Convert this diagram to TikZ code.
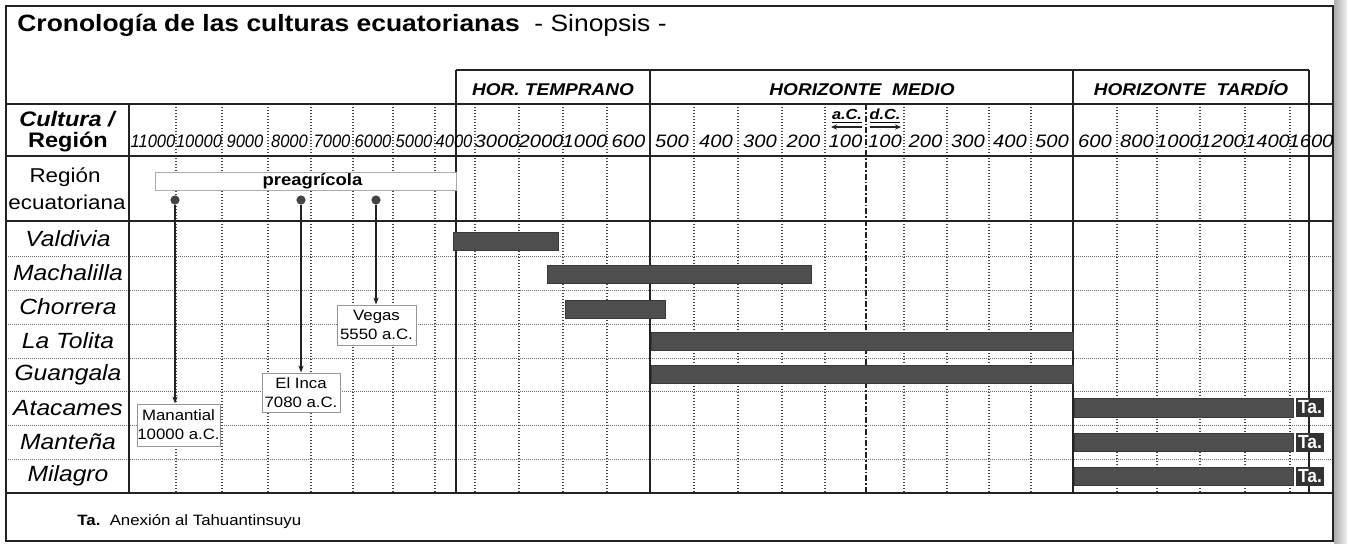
\documentclass[tikz,border=0pt]{standalone}
\usepackage{fontspec}
\setmainfont{Liberation Sans}[FakeStretch=1.12]
\usetikzlibrary{arrows.meta}
\definecolor{ink}{RGB}{35,35,35}
\definecolor{dotc}{RGB}{70,70,70}
\definecolor{barc}{RGB}{78,78,78}
\definecolor{tac}{RGB}{50,50,50}
\definecolor{boxc}{RGB}{150,150,150}
\newcommand{\cnd}[1]{\scalebox{0.82}[1]{#1}}
\begin{document}
\begin{tikzpicture}[x=0.5pt,y=-0.5pt,
  solidv/.style={draw=ink,line width=0.75pt},
  thickl/.style={draw=ink,line width=1.4pt},
  dotv/.style={draw=dotc,line width=0.65pt,dash pattern=on 0.6pt off 0.9pt},
  doth/.style={draw=dotc!80,line width=0.45pt,dash pattern=on 0.5pt off 0.5pt},
  dashdotv/.style={draw=ink,line width=0.7pt,dash pattern=on 3pt off 1pt on 0.8pt off 1pt},
  yr/.style={font=\fontsize{9}{10}\selectfont\itshape,inner sep=0pt},
  hz/.style={font=\fontsize{8.5}{10}\selectfont\bfseries\itshape,inner sep=0pt,anchor=base},
  rl/.style={font=\fontsize{11}{12}\selectfont\itshape,inner sep=0pt},
  evbox/.style={draw=boxc,line width=0.5pt,fill=white,align=center,inner sep=0pt,
    font=\fontsize{7.5}{9.5}\selectfont},
  pinn/.style={circle,fill=ink!85,draw=none,minimum size=4.6pt,inner sep=0pt},
  conn/.style={draw=ink,line width=0.55pt,-{Stealth[length=3.5pt,width=2.6pt]}},
  bar/.style={fill=barc,draw=ink!90,line width=0.4pt},
  tabox/.style={fill=tac,text=white,font=\fontsize{9.5}{9.5}\selectfont\bfseries,
    minimum width=14pt,minimum height=9.5pt,inner sep=0pt}
]
\useasboundingbox (0,0) rectangle (1347,543);
\fill[white] (0,0) rectangle (1347,543);
\shade[left color=gray!65,right color=gray!12] (1334,0) rectangle (1347,543);

% title
\node[anchor=west,inner sep=0pt,font=\fontsize{11.8}{13}\selectfont] (title) at (17,25)
  {\textbf{Cronología de las culturas ecuatorianas}\ \ - Sinopsis -};

% dotted horizontal row lines
\foreach \y in {256,290,324,358,391,425,459}
  \draw[doth] (6,\y) -- (1333,\y);

% dotted verticals
\foreach \x in {176,222,268,311,353,393,435,475,519,563,607,694,738,782,825,904,947,989,1031,1117,1157,1200,1245,1290}
  \draw[dotv] (\x,104) -- (\x,493);
\draw[dashdotv] (866,104) -- (866,493);

% solid verticals
\foreach \x in {456,650,1073,1309}
  \draw[solidv] (\x,70) -- (\x,493);
\draw[draw=ink,line width=1.1pt] (129,104) -- (129,493);

% horizontals
\draw[solidv] (456,70) -- (1309,70);
\draw[draw=ink,line width=0.6pt] (6,104) -- (1333,104);
\draw[thickl] (6,156) -- (1333,156);
\draw[draw=ink,line width=1pt] (6,221) -- (1333,221);
\draw[thickl] (6,493) -- (1333,493);

% outer border
\draw[draw=ink,line width=1pt] (6,6) rectangle (1333,541);

% horizon headers
\node[hz] (h1) at (553,95) {HOR. TEMPRANO};
\node[hz] (h2) at (862,95) {HORIZONTE\ \ MEDIO};
\node[hz] (h3) at (1191,95) {HORIZONTE\ \ TARDÍO};

% left header
\node[font=\fontsize{10.5}{11}\selectfont\bfseries\itshape,inner sep=0pt] (cul) at (67,119) {Cultura /};
\node[font=\fontsize{10.5}{11}\selectfont\bfseries,inner sep=0pt] (reg) at (68,142) {Región};

% years
\foreach \x/\t [count=\i] in {153/11000,199/10000,245/9000,289.5/8000,332/7000,373/6000,414/5000,454/4000}
  \node[yr] (ya\i) at (\x,141) {\cnd{\t}};
\foreach \x/\t [count=\i] in {497/3000,541/2000,585/1000,628.5/600}
  \node[yr] (yb\i) at (\x,141) {\t};
\foreach \x/\t [count=\i] in {672/500,716/400,760/300,803.5/200,845.5/100,885/100,925.5/200,968/300,1010/400,1052/500}
  \node[yr] (yc\i) at (\x,141) {\t};
\foreach \x/\t [count=\i] in {1095/600,1137/800,1178.5/1000,1222.5/1200,1267.5/1400,1311/1600}
  \node[yr] (yd\i) at (\x,141) {\t};

% a.C. / d.C.
\node[font=\fontsize{7.3}{8}\selectfont\bfseries\itshape,inner sep=0pt] (ac) at (847,116) {\underline{a.C.}};
\node[font=\fontsize{7.3}{8}\selectfont\bfseries\itshape,inner sep=0pt] (dc) at (885,116) {\underline{d.C.}};
\coordinate (acA) at (862,127); \coordinate (acB) at (831,127);
\coordinate (dcA) at (870,127); \coordinate (dcB) at (901,127);
\draw[draw=ink,line width=1.1pt,-{Stealth[length=3pt,width=2.6pt]}] (acA) -- (acB);
\draw[draw=ink,line width=1.1pt,-{Stealth[length=3pt,width=2.6pt]}] (dcA) -- (dcB);

% region row
\node[font=\fontsize{10}{12}\selectfont,inner sep=0pt] (reg1) at (65,177) {Región};
\node[font=\fontsize{10}{12}\selectfont,inner sep=0pt] (reg2) at (67,202) {ecuatoriana};
\node[draw=boxc!80,line width=0.5pt,fill=white,minimum width=150.5pt,minimum height=9pt,inner sep=0pt,
  font=\fontsize{8.25}{9}\selectfont\bfseries] (pre) at (305.5,181) {\hspace*{7pt}preagrícola};

% row labels
\foreach \y/\t [count=\i] in {239/Valdivia,273/Machalilla,307/Chorrera,341/La Tolita,374.5/Guangala,408/Atacames,442/Manteña,476/Milagro}
  \node[rl] (r\i) at (68,\y) {\t};

% bars
\draw[bar] (453,232) rectangle (558,250);
\draw[bar] (547,265) rectangle (811,283);
\draw[bar] (565,300) rectangle (665,318);
\draw[bar] (651,332) rectangle (1073,350);
\draw[bar] (651,365) rectangle (1073,383);
\draw[bar] (1074,398) rectangle (1293,417);
\draw[bar] (1074,433) rectangle (1293,451);
\draw[bar] (1074,467) rectangle (1293,485);
\node[tabox] (ta1) at (1310,407.5) {\cnd{Ta.}};
\node[tabox] (ta2) at (1310,442) {\cnd{Ta.}};
\node[tabox] (ta3) at (1310,476) {\cnd{Ta.}};

% pins and events
\node[pinn] (p1) at (175,200) {};
\node[pinn] (p2) at (301,200) {};
\node[pinn] (p3) at (376,200) {};
\node[evbox,minimum width=41.5pt,minimum height=21pt] (manantial) at (178.5,425) {Manantial\\10000 a.C.};
\node[evbox,minimum width=39pt,minimum height=19.5pt] (elinca) at (301,392.5) {El Inca\\7080 a.C.};
\node[evbox,minimum width=39.5pt,minimum height=20pt] (vegas) at (376.5,325) {Vegas\\5550 a.C.};
\draw[conn] (p1) -- (p1 |- manantial.north);
\draw[conn] (p2) -- (p2 |- elinca.north);
\draw[conn] (p3) -- (p3 |- vegas.north);

% footnote
\node[anchor=west,inner sep=0pt,font=\fontsize{7.5}{9}\selectfont] (fn) at (77,522)
  {\textbf{Ta.}\ \ Anexión al Tahuantinsuyu};
\end{tikzpicture}
\end{document}
